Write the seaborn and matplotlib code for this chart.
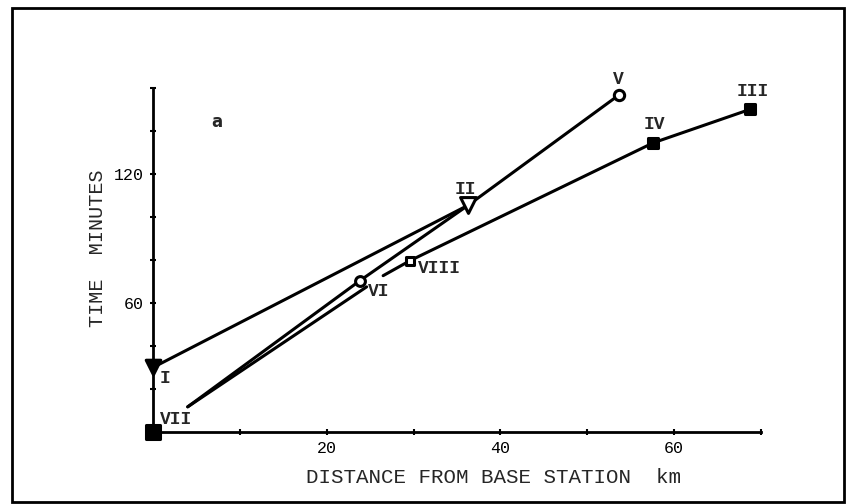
import pandas as pd
import seaborn as sns
import matplotlib.pyplot as plt
import matplotlib.patches as mpatches

# Station positions (distance km, time minutes)
stations = ['I', 'II', 'III', 'IV', 'V', 'VI', 'VII', 'VIII']
station_x = [0.0, 36.3, 68.7, 57.6, 53.6, 23.8, 0.0, 29.6]
station_y = [30.0, 105.5, 150.0, 134.5, 156.6, 70.3, 0.0, 79.7]

# Traverse lines (the lower one is broken around the VI label)
line_a_x = [0.0, 36.3, 53.6]
line_a_y = [30.0, 105.5, 156.6]
line_b_x = [4.0, 23.8, 36.3]
line_b_y = [11.7, 70.3, 105.5]
line_c1_x = [4.0, 24.6]
line_c1_y = [11.7, 67.5]
line_c2_x = [26.5, 29.6, 57.6, 68.7]
line_c2_y = [72.7, 79.7, 134.5, 150.0]

x_ticks = [0, 10, 20, 30, 40, 50, 60, 70]
x_tick_labels = ['', '', '20', '', '40', '', '60', '']
y_ticks = [0, 20, 40, 60, 80, 100, 120, 140, 160]
y_tick_labels = ['', '', '', '60', '', '', '120', '', '']

sns.set_style('white')
plt.rcParams['font.family'] = ['Liberation Mono', 'DejaVu Sans Mono']

fig = plt.figure(figsize=(8.47, 5.04), dpi=100)
ax = fig.add_axes([0.1806, 0.1429, 0.7178, 0.6825])

# Build one long table for the lines
rows = []
for name, xs, ys in [('a', line_a_x, line_a_y), ('b', line_b_x, line_b_y),
                     ('c1', line_c1_x, line_c1_y), ('c2', line_c2_x, line_c2_y)]:
    for xv, yv in zip(xs, ys):
        rows.append({'seg': name, 'dist': xv, 'time': yv})
lines_df = pd.DataFrame(rows)

sns.lineplot(data=lines_df, x='dist', y='time', units='seg', estimator=None,
             sort=False, color='black', linewidth=2.2, ax=ax, legend=False)

# Station markers
pts = pd.DataFrame({'name': stations, 'dist': station_x, 'time': station_y})
marker_style = {
    'I': dict(marker='v', s=110, facecolor='black'),
    'II': dict(marker='v', s=130, facecolor='white'),
    'III': dict(marker='s', s=55, facecolor='black'),
    'IV': dict(marker='s', s=60, facecolor='black'),
    'V': dict(marker='o', s=55, facecolor='white'),
    'VI': dict(marker='o', s=50, facecolor='white'),
    'VII': dict(marker='s', s=110, facecolor='black'),
    'VIII': dict(marker='s', s=30, facecolor='white'),
}
for name, st in marker_style.items():
    sub = pts[pts['name'] == name]
    sns.scatterplot(data=sub, x='dist', y='time', marker=st['marker'], s=st['s'],
                    color=st['facecolor'], edgecolor='black', linewidth=2.2,
                    ax=ax, zorder=5, clip_on=False, legend=False)

# Station labels (offsets in points)
label_offsets = {
    'I': (9, -8), 'II': (-2, 11), 'III': (2, 13), 'IV': (1, 13),
    'V': (0, 11.5), 'VI': (14, -8), 'VII': (17, 9), 'VIII': (21, -6),
}
for name, xv, yv in zip(stations, station_x, station_y):
    dx, dy = label_offsets[name]
    ax.annotate(name, (xv, yv), xytext=(dx, dy), textcoords='offset points',
                ha='center', va='center', fontsize=13, fontweight='bold')

ax.text(7.3, 144, 'a', fontsize=12, fontweight='bold', family='DejaVu Sans',
        ha='center', va='center')

ax.set_xlim(0, 70)
ax.set_ylim(0, 160)
ax.set_xticks(x_ticks)
ax.set_xticklabels(x_tick_labels)
ax.set_yticks(y_ticks)
ax.set_yticklabels(y_tick_labels)
ax.tick_params(axis='both', direction='inout', length=5, width=1.5,
               labelsize=12, colors='black', pad=4, bottom=True, left=True)
ax.set_xlabel('DISTANCE FROM BASE STATION  km', fontsize=15)
ax.set_ylabel('TIME  MINUTES', fontsize=14.5)
ax.xaxis.set_label_coords((494 - 153) / 608, (432 - 478) / 344)
ax.xaxis.label.set_va('center')
ax.yaxis.set_label_coords((98 - 153) / 608, (432 - 248) / 344)
ax.yaxis.label.set_va('center')

sns.despine(ax=ax)
for side in ['left', 'bottom']:
    ax.spines[side].set_linewidth(2)
    ax.spines[side].set_color('black')

# Outer frame
fig.add_artist(mpatches.Rectangle((0.014, 0.004), 0.982, 0.98, transform=fig.transFigure,
                                  fill=False, edgecolor='black', linewidth=2))

fig.savefig('out.png', dpi=100)
